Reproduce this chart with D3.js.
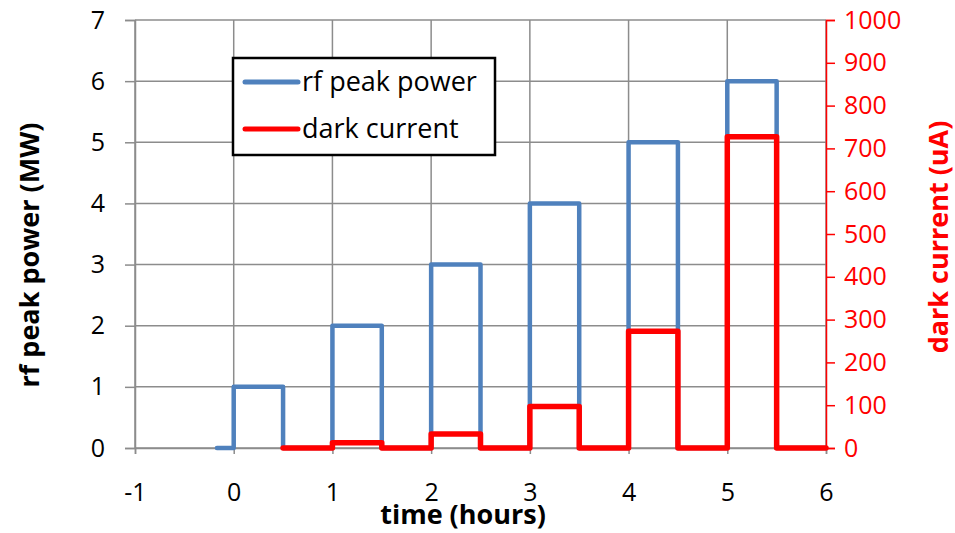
<!DOCTYPE html>
<html><head><meta charset="utf-8">
<script src="https://cdn.jsdelivr.net/npm/d3@7"></script>
<style>body{margin:0;background:#fff}svg{display:block}text{font-family:"Open Sans",sans-serif}</style>
</head><body><svg id="c" width="955" height="533"></svg>
<script>
const xTicks = [-1,0,1,2,3,4,5,6];
const yLeftTicks = [0,1,2,3,4,5,6,7];
const yRightTicks = [0,100,200,300,400,500,600,700,800,900,1000];
const powerX = [-0.17,0,0,0.5,0.5,1,1,1.5,1.5,2,2,2.5,2.5,3,3,3.5,3.5,4,4,4.5,4.5,5,5,5.5,5.5,6];
const powerY = [0,0,1,1,0,0,2,2,0,0,3,3,0,0,4,4,0,0,5,5,0,0,6,6,0,0];
const currentX = [0.5,1,1,1.5,1.5,2,2,2.5,2.5,3,3,3.5,3.5,4,4,4.5,4.5,5,5,5.5,5.5,6];
const currentY = [0,0,12,12,0,0,33,33,0,0,97,97,0,0,273,273,0,0,727,727,0,0];
const seriesNames = ["rf peak power","dark current"];

const svg = d3.select("#c");
const L=135, R=826, T=20, B=448;
const x = d3.scaleLinear().domain([-1,6]).range([L,R]);
const yL = d3.scaleLinear().domain([0,7]).range([B,T]);
const yR = d3.scaleLinear().domain([0,1000]).range([B,T]);
const grid="#8c8c8c";
const fmt = d=>String(d);

// gridlines
svg.append("g").selectAll("line").data(yLeftTicks).join("line")
  .attr("x1",L).attr("x2",R).attr("y1",d=>yL(d)).attr("y2",d=>yL(d))
  .attr("stroke",grid).attr("stroke-width",1.5);
svg.append("g").selectAll("line").data(xTicks).join("line")
  .attr("x1",d=>x(d)).attr("x2",d=>x(d)).attr("y1",T).attr("y2",B)
  .attr("stroke",grid).attr("stroke-width",1.5);

// left axis
const gl = svg.append("g").attr("transform",`translate(${L},0)`)
  .call(d3.axisLeft(yL).tickValues(yLeftTicks).tickSize(10).tickPadding(20).tickFormat(fmt));
gl.select(".domain").attr("stroke",grid).attr("stroke-width",1.5);
gl.selectAll(".tick line").attr("stroke",grid).attr("stroke-width",1.5);
gl.selectAll("text").attr("font-size",25).attr("fill","#000");

// bottom axis
const gb = svg.append("g").attr("transform",`translate(0,${B})`)
  .call(d3.axisBottom(x).tickValues(xTicks).tickSize(6).tickPadding(29).tickFormat(fmt));
gb.select(".domain").attr("stroke",grid).attr("stroke-width",1.5);
gb.selectAll(".tick line").attr("stroke",grid).attr("stroke-width",1.5);
gb.selectAll("text").attr("font-size",25).attr("fill","#000");

// right axis
const gr = svg.append("g").attr("transform",`translate(${R},0)`)
  .call(d3.axisRight(yR).tickValues(yRightTicks).tickSize(9).tickPadding(9).tickFormat(fmt));
gr.select(".domain").attr("stroke","#ff0000").attr("stroke-width",1.5);
gr.selectAll(".tick line").attr("stroke","#ff0000").attr("stroke-width",1.5);
gr.selectAll("text").attr("font-size",25).attr("fill","#ff0000");

// lines
const lp = d3.line().x(d=>x(d[0])).y(d=>yL(d[1]));
const lc = d3.line().x(d=>x(d[0])).y(d=>yR(d[1]));
svg.append("path").datum(powerX.map((v,i)=>[v,powerY[i]])).attr("d",lp)
  .attr("fill","none").attr("stroke","#4f81bd").attr("stroke-width",4.5).attr("stroke-linecap","round").attr("stroke-linejoin","round");
svg.append("path").datum(currentX.map((v,i)=>[v,currentY[i]])).attr("d",lc)
  .attr("fill","none").attr("stroke","#ff0000").attr("stroke-width",5.5).attr("stroke-linecap","round").attr("stroke-linejoin","round");

// legend
const lg = svg.append("g");
lg.append("rect").attr("x",233).attr("y",58).attr("width",262).attr("height",97)
  .attr("fill","#fff").attr("stroke","#000").attr("stroke-width",2.5);
const lcol=["#4f81bd","#ff0000"];
seriesNames.forEach((n,i)=>{
  const yy = 82+i*47;
  lg.append("line").attr("x1",245).attr("x2",298).attr("y1",yy).attr("y2",yy)
    .attr("stroke",lcol[i]).attr("stroke-width",5).attr("stroke-linecap","round");
  lg.append("text").attr("x",302).attr("y",yy+9).attr("font-size",27).attr("fill","#000").text(n);
});

// titles
svg.append("text").attr("x",463).attr("y",524).attr("text-anchor","middle")
  .attr("font-size",27).attr("font-weight","bold").text("time (hours)");
svg.append("text").attr("transform","translate(39,255) rotate(-90)").attr("text-anchor","middle")
  .attr("font-size",27).attr("font-weight","bold").text("rf peak power (MW)");
svg.append("text").attr("transform","translate(948,237) rotate(-90)").attr("text-anchor","middle")
  .attr("font-size",27).attr("font-weight","bold").attr("fill","#ff0000").text("dark current (uA)");
</script></body></html>
